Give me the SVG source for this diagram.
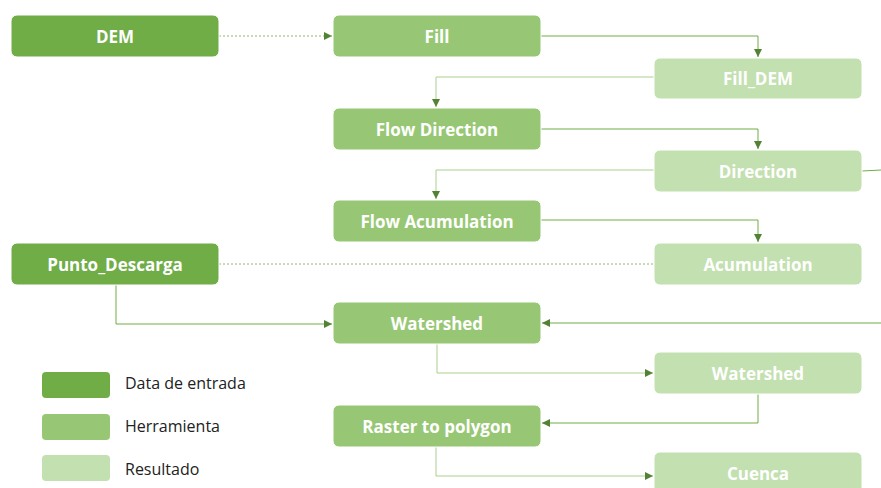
<svg xmlns="http://www.w3.org/2000/svg" width="881" height="488" viewBox="0 0 881 488">
<defs>
<style>
.in{fill:#70ad47}
.tool{fill:#97c774}
.res{fill:#c3e0b0}
.node rect{stroke:#ffffff;stroke-width:1}
.lbl{font-family:"Open Sans","Noto Sans",sans-serif;font-weight:bold;font-size:17px;fill:#ffffff;text-anchor:middle;dominant-baseline:central}
.leg{font-family:"Open Sans","Noto Sans",sans-serif;font-size:16px;fill:#222222}
.c{fill:none;stroke:#70ad47;stroke-width:1}
.cl{fill:none;stroke:#a9d18e;stroke-width:1}
.dot{fill:none;stroke:#8bb870;stroke-width:1;stroke-dasharray:2 2}
</style>
<marker id="arr" viewBox="0 0 10 10" refX="10" refY="5" markerWidth="8" markerHeight="8" markerUnits="userSpaceOnUse" orient="auto">
<path d="M0,0 L10,5 L0,10 z" fill="#548235"/>
</marker>
</defs>
<g id="connectors">
<path class="dot" d="M219,36 H332" marker-end="url(#arr)"/>
<path class="c" d="M541,36 H758 V57" marker-end="url(#arr)"/>
<path class="cl" d="M654,77 H436 V107" marker-end="url(#arr)"/>
<path class="c" d="M541,129 H758 V149" marker-end="url(#arr)"/>
<path class="cl" d="M654,170 H436 V199" marker-end="url(#arr)"/>
<path class="c" d="M541,220 H758 V242" marker-end="url(#arr)"/>
<path class="dot" d="M219,264 H654"/>
<path class="c" d="M862,171 L881,170"/>
<path class="c" d="M881,323 H542" marker-end="url(#arr)"/>
<path class="c" d="M116,285 V324 H332" marker-end="url(#arr)"/>
<path class="cl" d="M437,344 V373 H653" marker-end="url(#arr)"/>
<path class="c" d="M758,394 V423 H542" marker-end="url(#arr)"/>
<path class="cl" d="M436,447 V476 H653" marker-end="url(#arr)"/>
</g>
<g id="n-dem" class="node"><rect class="in" x="11" y="15" width="208" height="42" rx="6"/><text class="lbl" x="115" y="36">DEM</text></g>
<g id="n-fill" class="node"><rect class="tool" x="333" y="15" width="208" height="42" rx="6"/><text class="lbl" x="437" y="36">Fill</text></g>
<g id="n-filldem" class="node"><rect class="res" x="654" y="58" width="208" height="41" rx="6"/><text class="lbl" x="758" y="78">Fill_DEM</text></g>
<g id="n-flowdir" class="node"><rect class="tool" x="333" y="108" width="208" height="42" rx="6"/><text class="lbl" x="437" y="129">Flow Direction</text></g>
<g id="n-direction" class="node"><rect class="res" x="654" y="150" width="208" height="42" rx="6"/><text class="lbl" x="758" y="171">Direction</text></g>
<g id="n-flowacc" class="node"><rect class="tool" x="333" y="200" width="208" height="42" rx="6"/><text class="lbl" x="437" y="221">Flow Acumulation</text></g>
<g id="n-punto" class="node"><rect class="in" x="11" y="243" width="208" height="42" rx="6"/><text class="lbl" x="115" y="264">Punto_Descarga</text></g>
<g id="n-acum" class="node"><rect class="res" x="654" y="243" width="208" height="42" rx="6"/><text class="lbl" x="758" y="264">Acumulation</text></g>
<g id="n-watershed-tool" class="node"><rect class="tool" x="333" y="302" width="208" height="42" rx="6"/><text class="lbl" x="437" y="323">Watershed</text></g>
<g id="n-watershed-res" class="node"><rect class="res" x="654" y="352" width="208" height="42" rx="6"/><text class="lbl" x="758" y="373">Watershed</text></g>
<g id="n-raster" class="node"><rect class="tool" x="333" y="405" width="208" height="42" rx="6"/><text class="lbl" x="437" y="426">Raster to polygon</text></g>
<g id="n-cuenca" class="node"><rect class="res" x="654" y="452" width="208" height="42" rx="6"/><text class="lbl" x="758" y="473">Cuenca</text></g>
<g id="legend">
<rect class="in" x="42" y="372" width="68" height="26" rx="4"/>
<text class="leg" x="125" y="389">Data de entrada</text>
<rect class="tool" x="42" y="414" width="68" height="26" rx="4"/>
<text class="leg" x="125" y="432">Herramienta</text>
<rect class="res" x="42" y="455" width="68" height="26" rx="4"/>
<text class="leg" x="125" y="475">Resultado</text>
</g>
</svg>
